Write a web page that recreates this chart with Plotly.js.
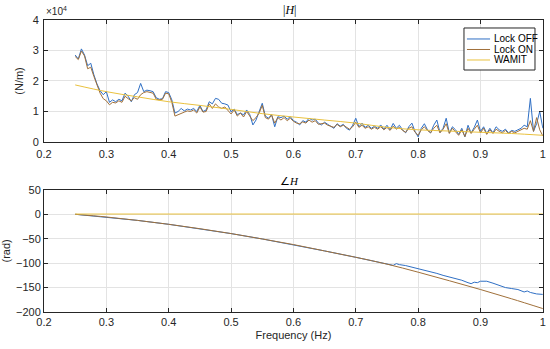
<!DOCTYPE html>
<html>
<head>
<meta charset="utf-8">
<script src="https://cdn.plot.ly/plotly-3.0.1.min.js"></script>
<style>html,body{margin:0;padding:0;background:#fff;}#chart{width:550px;height:349px;}</style>
</head>
<body>
<div id="chart"></div>
<script>
// Frequency grid for measured magnitude (Hz)
const freqStart = 0.25, freqStep = 0.005;
// |H| Lock OFF (N/m)
const magLockOff = [28500,27200,30500,28500,25000,25800,22000,19000,16800,15500,16500,13000,13800,13200,14000,13500,16000,15000,13200,15500,16200,19200,16500,17000,16800,16500,14500,14000,14200,16500,16200,13800,9500,10000,11000,10200,10800,10500,11000,10000,12000,10000,10500,13200,12500,14300,14000,12700,12500,12100,9900,10800,9000,9500,8900,10500,9000,5600,7200,10000,12700,8500,7800,9000,5000,8300,8000,8500,7500,8300,7000,6500,5600,7000,6500,7800,7200,7500,6200,5600,6500,5800,5000,4500,6000,5200,5800,4500,3900,5500,7800,5000,6200,4800,5500,4500,5200,4500,5600,4200,5500,4000,6100,4500,5500,4000,3000,5000,6200,3500,1700,4500,6000,4000,3000,5500,7200,3200,4500,7800,3000,5000,4000,2500,4500,1700,5500,3000,4800,7200,3500,5000,2800,4500,3000,5000,4000,3500,4200,3000,3800,3500,4000,4500,5500,5000,14300,3500,6000,10000,4500];
// |H| Lock ON (N/m)
const magLockOn = [28000,27000,29800,28200,24000,24500,21500,18500,16000,14200,13500,12200,13000,12800,13500,13000,15000,14200,13500,14500,14000,15500,16200,16500,16200,16000,14000,13800,14000,16000,15800,13000,8500,9000,9500,9800,10200,10000,10500,9500,11500,9800,10000,12500,11000,12500,11500,11000,11500,10500,9200,10500,8500,9500,8200,10000,8500,7000,8000,9500,12000,8000,7500,8800,6200,8000,7200,8000,7000,7800,6800,6200,6000,6600,6200,7200,6500,7000,5800,6000,6200,5500,5200,4800,5800,5000,5500,4800,4200,5000,6500,4800,5500,4500,5000,4200,4800,4200,5000,4000,4800,3800,5200,4200,4800,3800,3200,4500,5000,3200,2200,4000,5000,3800,3000,4500,5500,3000,4200,6000,2800,4500,3500,2200,4000,1800,4500,2800,4200,5500,3000,4500,2500,4000,2800,4200,3500,3000,3800,2800,3500,3000,3500,4000,4500,4200,7000,3500,8000,4000,2000];
// WAMIT magnitude (N/m) and phase (rad)
const wamitFreq = [0.25,0.30,0.35,0.40,0.45,0.50,0.55,0.60,0.65,0.70,0.75,0.80,0.85,0.90,0.95,1.00];
const wamitMag = [18700,16500,14800,13200,12000,10700,9300,8200,7200,6200,4800,4000,3600,3200,2800,2200];
const wamitPhase = [0.5,0.5,0.5,0.5,0.5,0.5,0.5,0.5,0.5,0.5,0.5,0.5,0.5,0.5,0.5,0.5];
// Phase (rad)
const phaseOnFreq = [0.25,0.30,0.35,0.40,0.45,0.50,0.55,0.60,0.65,0.70,0.75,0.80,0.85,0.90,0.95,1.00];
const phaseLockOn = [0,-5.5,-12.5,-20.5,-29.5,-39.5,-50.5,-62,-75,-88,-102,-118.5,-136,-154,-173,-193];
const phaseOffFreq = [0.25,0.30,0.35,0.40,0.45,0.50,0.55,0.60,0.65,0.70,0.75,0.76,0.765,0.77,0.78,0.79,0.80,0.81,0.82,0.83,0.84,0.85,0.86,0.87,0.88,0.885,0.89,0.895,0.90,0.91,0.92,0.93,0.94,0.95,0.96,0.97,0.975,0.98,0.99,1.00];
const phaseLockOff = [0,-5.5,-12.5,-20.5,-29.5,-39.5,-50.5,-62,-75,-88,-102,-104.5,-101,-103,-105,-108,-111,-114,-118,-121,-125,-128,-131,-135,-140,-142,-139,-140,-137,-137,-141,-146,-150,-152,-154,-159,-157,-160,-163,-164];
const seriesNames = ['Lock OFF', 'Lock ON', 'WAMIT'];
const yTickVals = [0,10000,20000,30000,40000];
const yTickText = ['0','1','2','3','4'];
const xTicks = [0.2,0.3,0.4,0.5,0.6,0.7,0.8,0.9,1];
const xTickText = ['0.2','0.3','0.4','0.5','0.6','0.7','0.8','0.9','1'];

const magFreq = magLockOff.map((_, i) => +(freqStart + i * freqStep).toFixed(3));

const colors = ['#2f6fc4', '#a0703a', '#e9c13e'];
const traces = [
  {x: magFreq, y: magLockOff, type: 'scatter', mode: 'lines', name: seriesNames[0], line: {color: colors[0], width: 1}, xaxis: 'x', yaxis: 'y'},
  {x: magFreq, y: magLockOn, type: 'scatter', mode: 'lines', name: seriesNames[1], line: {color: colors[1], width: 1}, xaxis: 'x', yaxis: 'y'},
  {x: wamitFreq, y: wamitMag, type: 'scatter', mode: 'lines', name: seriesNames[2], line: {color: colors[2], width: 1, shape: 'spline'}, xaxis: 'x', yaxis: 'y'},
  {x: phaseOffFreq, y: phaseLockOff, type: 'scatter', mode: 'lines', name: seriesNames[0], line: {color: colors[0], width: 1}, xaxis: 'x2', yaxis: 'y2'},
  {x: phaseOnFreq, y: phaseLockOn, type: 'scatter', mode: 'lines', name: seriesNames[1], line: {color: colors[1], width: 1, shape: 'spline'}, xaxis: 'x2', yaxis: 'y2'},
  {x: wamitFreq, y: wamitPhase, type: 'scatter', mode: 'lines', name: seriesNames[2], line: {color: colors[2], width: 1}, xaxis: 'x2', yaxis: 'y2'}
];

const font = {family: 'Liberation Sans, Arial, sans-serif', size: 11, color: '#262626'};
const axBase = {showline: true, linecolor: '#262626', linewidth: 1, mirror: 'ticks', ticks: 'inside', ticklen: 4, tickcolor: '#262626',
  showgrid: true, gridcolor: '#e3e3e3', zeroline: false, tickfont: font};

// Compact MATLAB-style legend box (paper coordinates)
const leg = {x0: 0.8436, x1: 0.9727, y0: 0.7994, y1: 0.9198, lineX0: 0.849, lineX1: 0.891, textX: 0.8945, rows: [0.8883, 0.8582, 0.8281]};
const shapes = [{type: 'rect', xref: 'paper', yref: 'paper', x0: leg.x0, x1: leg.x1, y0: leg.y0, y1: leg.y1,
  line: {color: '#262626', width: 1}, fillcolor: '#fff', layer: 'above'}];
const legendAnn = [];
seriesNames.forEach((n, i) => {
  shapes.push({type: 'line', xref: 'paper', yref: 'paper', x0: leg.lineX0, x1: leg.lineX1, y0: leg.rows[i], y1: leg.rows[i],
    line: {color: colors[i], width: 1}, layer: 'above'});
  legendAnn.push({text: n, xref: 'paper', yref: 'paper', x: leg.textX, y: leg.rows[i], xanchor: 'left', yanchor: 'middle', showarrow: false,
    font: {family: 'Liberation Sans, Arial, sans-serif', size: 10, color: '#000'}});
});

const layout = {
  width: 550, height: 349,
  margin: {l: 0, r: 0, t: 0, b: 0},
  paper_bgcolor: '#fff', plot_bgcolor: '#fff',
  font: font,
  showlegend: false,
  xaxis: Object.assign({}, axBase, {domain: [0.08, 0.987], range: [0.2, 1], tickvals: xTicks, ticktext: xTickText, anchor: 'y', ticklabelstandoff: 2}),
  yaxis: Object.assign({}, axBase, {domain: [0.593, 0.943], range: [0, 40000], tickvals: yTickVals, ticktext: yTickText, anchor: 'x',
    ticklabelstandoff: 2, title: {text: '(N/m)', font: font, standoff: 6}}),
  xaxis2: Object.assign({}, axBase, {domain: [0.08, 0.987], range: [0.2, 1], tickvals: xTicks, ticktext: xTickText, anchor: 'y2',
    title: {text: 'Frequency (Hz)', font: font, standoff: 4}}),
  yaxis2: Object.assign({}, axBase, {domain: [0.106, 0.456], range: [-200, 50], tickvals: [-200,-150,-100,-50,0,50], anchor: 'x2',
    title: {text: '(rad)', font: font, standoff: 6}}),
  shapes: shapes,
  annotations: [
    {text: '×10<sup>4</sup>', xref: 'paper', yref: 'paper', x: 0.08, y: 0.945, xanchor: 'left', yanchor: 'bottom', showarrow: false,
      font: {family: 'Liberation Sans, Arial, sans-serif', size: 10, color: '#262626'}},
    {text: '|<i>H</i>|', xref: 'paper', yref: 'paper', x: 0.527, y: 0.945, xanchor: 'center', yanchor: 'bottom', showarrow: false,
      font: {family: 'Liberation Serif, serif', size: 12, color: '#000'}},
    {text: '∠<i>H</i>', xref: 'paper', yref: 'paper', x: 0.527, y: 0.458, xanchor: 'center', yanchor: 'bottom', showarrow: false,
      font: {family: 'Liberation Serif, serif', size: 11, color: '#000'}}
  ].concat(legendAnn)
};

Plotly.newPlot('chart', traces, layout, {staticPlot: true, displayModeBar: false});
</script>
</body>
</html>
